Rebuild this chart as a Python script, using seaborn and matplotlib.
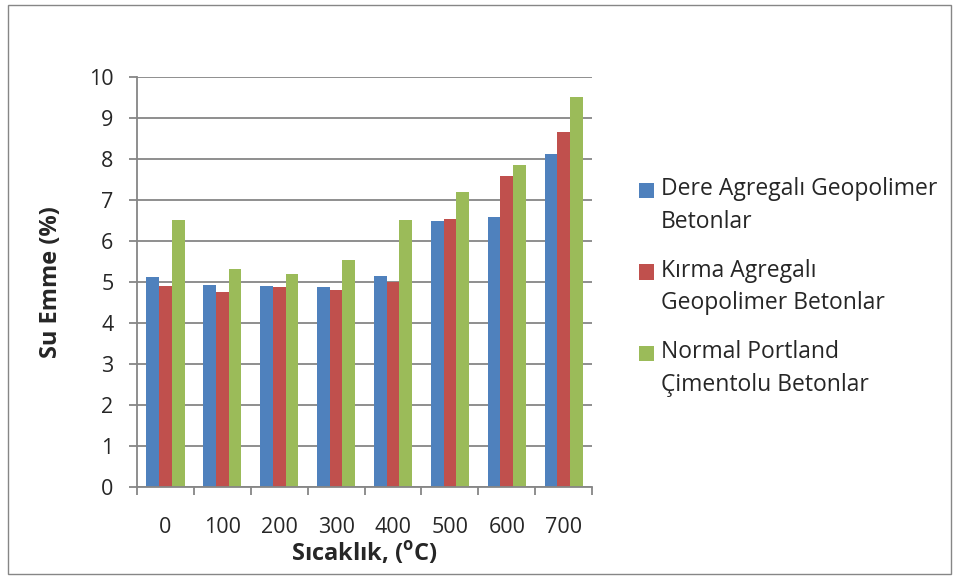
import matplotlib
matplotlib.use('Agg')
from matplotlib import pyplot as plt
from matplotlib.ticker import FixedLocator
from matplotlib.patches import Rectangle
from matplotlib.legend_handler import HandlerPatch
import pandas as pd
import seaborn as sns

temps = ['0', '100', '200', '300', '400', '500', '600', '700']
series_names = ['Dere Agregalı Geopolimer\nBetonlar',
                'Kırma Agregalı\nGeopolimer Betonlar',
                'Normal Portland\nÇimentolu Betonlar']
dere = [5.12, 4.91, 4.89, 4.87, 5.14, 6.48, 6.57, 8.12]
kirma = [4.89, 4.76, 4.88, 4.80, 4.99, 6.52, 7.57, 8.65]
normal = [6.50, 5.30, 5.19, 5.54, 6.50, 7.20, 7.86, 9.50]
colors = ['#4F81BD', '#C0504D', '#9BBB59']

df = pd.DataFrame({
    'Sıcaklık': temps * 3,
    'Su Emme': dere + kirma + normal,
    'Seri': [series_names[0]] * 8 + [series_names[1]] * 8 + [series_names[2]] * 8,
})

sns.set_style('white')
plt.rcParams['font.family'] = ['Open Sans', 'DejaVu Sans']
plt.rcParams['mathtext.fontset'] = 'custom'
plt.rcParams['mathtext.rm'] = 'Open Sans'
plt.rcParams['mathtext.bf'] = 'Open Sans:bold'

fig = plt.figure(figsize=(9.59, 5.79), dpi=100)
ax = fig.add_axes([0.1429, 0.1594, 0.4745, 0.708])
fig.patches.append(Rectangle((8 / 959, 5 / 579), 943 / 959, 569 / 579, transform=fig.transFigure,
                             fill=False, edgecolor='#868686', linewidth=1))

sns.barplot(data=df, x='Sıcaklık', y='Su Emme', hue='Seri', palette=colors,
            width=0.67, saturation=1, ax=ax, edgecolor='none')

grey = '#868686'
ax.set_ylim(0, 10)
ax.set_xlim(-0.5, 7.5)
ax.set_yticks(range(0, 11))
ax.yaxis.grid(True, color=grey, linewidth=1.3)
ax.set_axisbelow(True)
for s in ['top', 'right']:
    ax.spines[s].set_visible(False)
for s in ['left', 'bottom']:
    ax.spines[s].set_color(grey)
    ax.spines[s].set_linewidth(1.3)

ax.tick_params(axis='y', length=6, color=grey, width=1.3, pad=11, labelsize=15.5, direction='out', left=True)
ax.tick_params(axis='x', which='major', length=0, pad=22, labelsize=15.5)
ax.xaxis.set_minor_locator(FixedLocator([i - 0.5 for i in range(9)]))
ax.tick_params(axis='x', which='minor', length=6, color=grey, width=1.3, direction='out', bottom=True)

ax.set_xlabel(r'Sıcaklık, ($^\mathbf{o}$C)', fontsize=17, fontweight='bold')
ax.set_ylabel('Su Emme (%)', fontsize=17, fontweight='bold')
ax.xaxis.set_label_coords(0.5, -0.128)
ax.yaxis.set_label_coords(-0.162, 0.5)


def top_square(legend, orig_handle, xdescent, ydescent, width, height, fontsize):
    # square aligned with first line of a two-line label
    return Rectangle((-xdescent, -ydescent + 11.5), width, height)


leg = ax.legend(loc='center left', bbox_to_anchor=(639 / 959, 1 - 287 / 579),
                bbox_transform=fig.transFigure, frameon=False, fontsize=16.5,
                handlelength=0.65, handleheight=0.65, handletextpad=0.3,
                labelspacing=1.09, borderaxespad=0, borderpad=0,
                handler_map={matplotlib.patches.Rectangle: HandlerPatch(patch_func=top_square)})
for t in leg.get_texts():
    t.set_linespacing(1.49)

fig.savefig('out.png', dpi=100)
